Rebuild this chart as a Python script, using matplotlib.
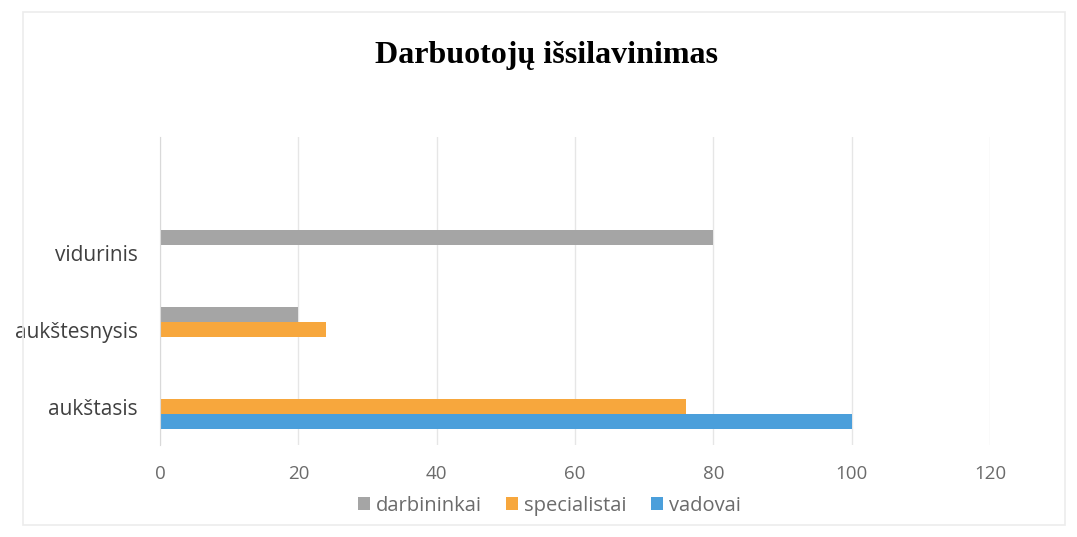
import numpy as np
import matplotlib
matplotlib.use('Agg')
import matplotlib.pyplot as plt
from matplotlib.patches import Rectangle

kategorijos = ['aukštasis', 'aukštesnysis', 'vidurinis', '']
darbininkai = [0, 20, 80, 0]
specialistai = [76, 24, 0, 0]
vadovai = [100, 0, 0, 0]
x_ticks = [0, 20, 40, 60, 80, 100, 120]

spalvos = {'darbininkai': '#a5a5a5', 'specialistai': '#f7a73d', 'vadovai': '#4b9fdb'}

fig = plt.figure(figsize=(10.77, 5.37), dpi=100)
fig.patches.append(Rectangle((0.021, 0.022), 0.968, 0.955, transform=fig.transFigure,
                             fill=False, edgecolor='#ececec', linewidth=1.2))

ax = fig.add_axes([0.1486, 0.171, 0.7706, 0.574])

y = np.arange(len(kategorijos))
h = 0.195
ax.barh(y + h, darbininkai, height=h, color=spalvos['darbininkai'], label='darbininkai')
ax.barh(y, specialistai, height=h, color=spalvos['specialistai'], label='specialistai')
ax.barh(y - h, vadovai, height=h, color=spalvos['vadovai'], label='vadovai')

ax.set_xlim(0, 120)
ax.set_ylim(-0.5, len(kategorijos) - 0.5)
ax.set_xticks(x_ticks)
ax.set_yticks(y)
ax.set_yticklabels(kategorijos)
ax.tick_params(axis='x', length=0, labelsize=13.5, labelcolor='#6b6b6b', pad=14)
ax.tick_params(axis='y', length=0, labelsize=15, labelcolor='#404040', pad=16)
for lab in ax.get_xticklabels() + ax.get_yticklabels():
    lab.set_fontfamily('Open Sans')

ax.grid(axis='x', color='#e6e6e6', linewidth=1)
ax.set_axisbelow(True)
for s in ['top', 'right', 'bottom']:
    ax.spines[s].set_visible(False)
ax.spines['left'].set_color('#d9d9d9')

fig.text(0.507, 0.897, 'Darbuotojų išsilavinimas', ha='center', va='center',
         fontsize=23, fontweight='bold', family='Liberation Serif')

leg = fig.legend(loc='center', bbox_to_anchor=(0.51, 0.058), ncol=3, frameon=False,
                 handlelength=0.6, handleheight=0.6, handletextpad=0.3, columnspacing=1.2,
                 prop={'family': 'Open Sans', 'size': 14.5})
for t in leg.get_texts():
    t.set_color('#6b6b6b')

fig.savefig('out.png', dpi=100)
